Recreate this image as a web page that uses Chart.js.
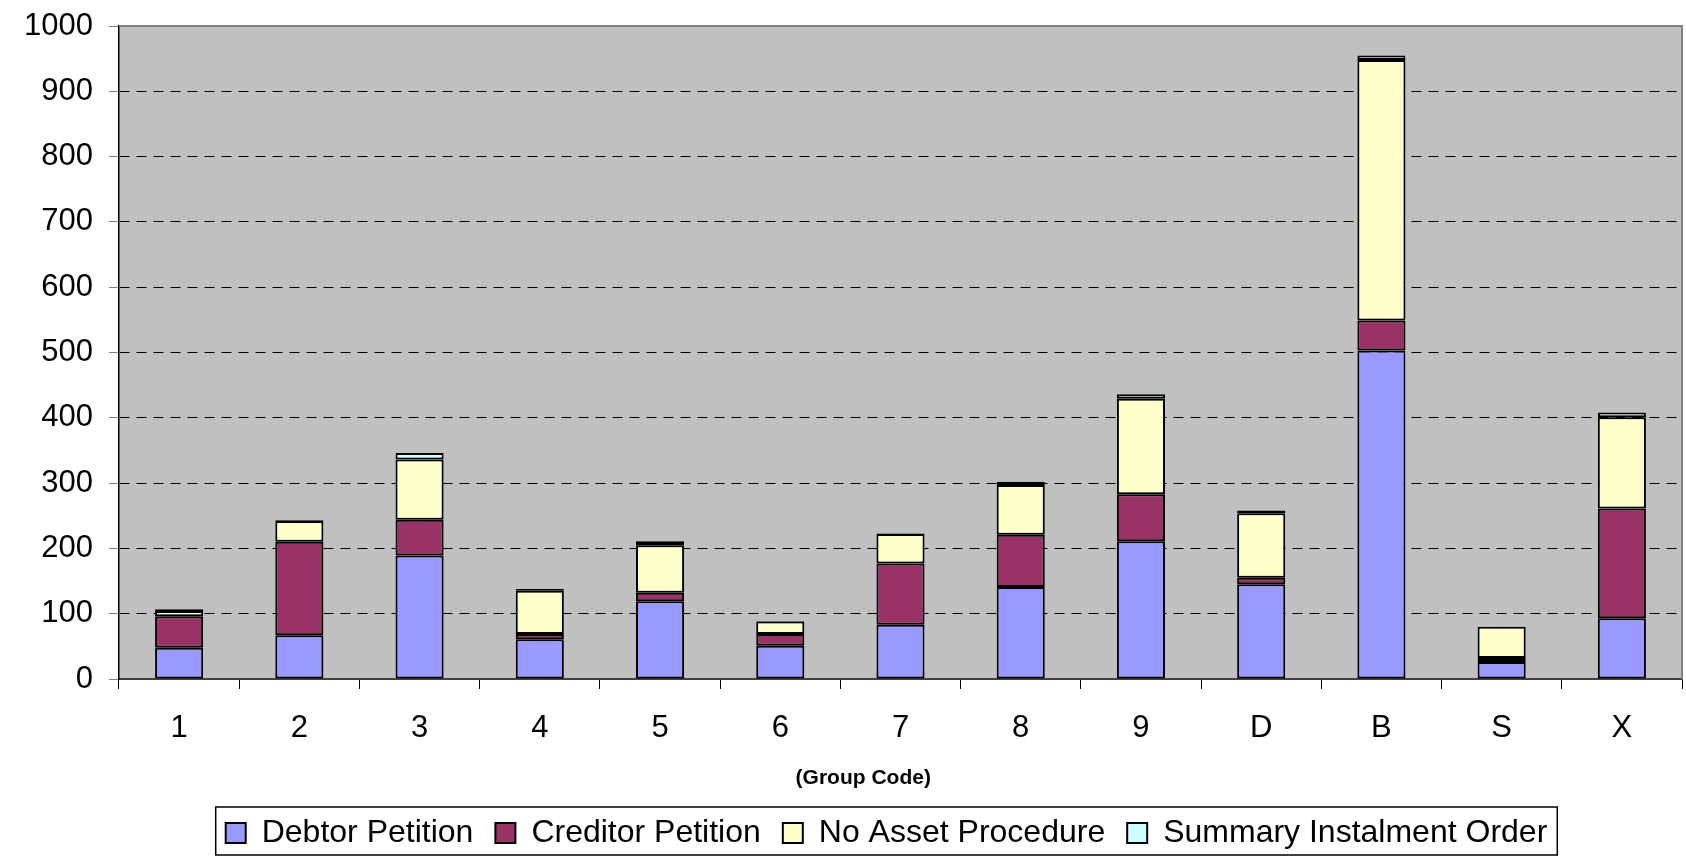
<!DOCTYPE html>
<html lang="en">
<head>
    <meta charset="UTF-8">
    <title>Bankruptcies by Group Code</title>
    <script src="https://cdn.jsdelivr.net/npm/chart.js"></script>
    <style>
        body { margin: 0; background: #fff; }
        .chart-container { width: 1686px; height: 859px; position: relative; }
    </style>
</head>
<body>
    <div class="chart-container">
        <canvas id="groupChart"></canvas>
    </div>

    <script>
        // values
        const groupCodes = ['1', '2', '3', '4', '5', '6', '7', '8', '9', 'D', 'B', 'S', 'X'];
        const debtorPetition   = [48, 67, 189, 61, 119, 51, 83, 141, 211, 145, 503, 26, 93];
        const creditorPetition = [48, 143, 55, 8, 13, 18, 94, 80, 72, 10, 46, 6, 168];
        const noAssetProcedure = [8, 32, 92, 66, 73, 19, 45, 76, 146, 99, 399, 48, 140];
        const summaryInstalment = [3, 1, 10, 3, 6, 1, 1, 5, 7, 4, 7, 0, 7];
        const yTicks = [0, 100, 200, 300, 400, 500, 600, 700, 800, 900, 1000];

        const FONT = '"Liberation Sans", Arial, sans-serif';

        // grey plot background, solid frame on top/right, axis title and legend box
        const plotFrame = {
            id: 'plotFrame',
            afterLayout(chart) {
                // original legend sits a bit left of the plot centre
                chart.legend.left -= 14;
                chart.legend.right -= 14;
            },
            beforeDraw(chart) {
                const { ctx, chartArea: a } = chart;
                ctx.save();
                ctx.fillStyle = '#c0c0c0';
                ctx.fillRect(a.left, a.top, a.right - a.left, a.bottom - a.top);
                ctx.restore();
            },
            beforeDatasetsDraw(chart) {
                const { ctx, chartArea: a } = chart;
                ctx.save();
                ctx.strokeStyle = '#808080';
                ctx.lineWidth = 2;
                ctx.beginPath();
                ctx.moveTo(a.left, a.top);
                ctx.lineTo(a.right, a.top);
                ctx.lineTo(a.right, a.bottom);
                ctx.stroke();
                ctx.restore();
            },
            afterDraw(chart) {
                const { ctx } = chart;
                ctx.save();
                ctx.font = 'bold 21px ' + FONT;
                ctx.fillStyle = '#000';
                ctx.textAlign = 'center';
                ctx.textBaseline = 'middle';
                ctx.fillText('(Group Code)', chart.width * 0.512, chart.scales.x.top + 99);
                ctx.restore();

                const boxes = chart.legend.legendHitBoxes;
                if (boxes && boxes.length) {
                    const first = boxes[0];
                    const last = boxes[boxes.length - 1];
                    ctx.save();
                    ctx.strokeStyle = '#000';
                    ctx.lineWidth = 1.5;
                    ctx.strokeRect(first.left - 10, first.top - 10,
                        last.left + last.width - first.left + 20, first.height + 16);
                    ctx.restore();
                }
            }
        };

        const ctx = document.getElementById('groupChart').getContext('2d');

        const makeSet = (label, data, color) => ({
            label: label,
            data: data,
            backgroundColor: color,
            borderColor: '#000',
            borderWidth: 2,
            borderSkipped: false,
            categoryPercentage: 1.0,
            barPercentage: 0.4
        });

        new Chart(ctx, {
            type: 'bar',
            data: {
                labels: groupCodes,
                datasets: [
                    makeSet('Debtor Petition', debtorPetition, '#9999ff'),
                    makeSet('Creditor Petition', creditorPetition, '#993366'),
                    makeSet('No Asset Procedure', noAssetProcedure, '#ffffcc'),
                    makeSet('Summary Instalment Order', summaryInstalment, '#ccffff')
                ]
            },
            options: {
                responsive: true,
                maintainAspectRatio: false,
                animation: false,
                layout: { padding: { left: 0, right: 4, top: 26, bottom: 0 } },
                plugins: {
                    tooltip: { enabled: false },
                    legend: {
                        position: 'bottom',
                        fullSize: false,
                        labels: {
                            font: { family: FONT, size: 32 },
                            color: '#000',
                            boxWidth: 20,
                            boxHeight: 20,
                            padding: 22
                        }
                    }
                },
                scales: {
                    x: {
                        stacked: true,
                        afterFit(scale) { scale.height = 116; },
                        grid: {
                            drawOnChartArea: false,
                            tickLength: 10,
                            tickColor: '#000',
                            offset: true
                        },
                        border: { color: '#404040', width: 2 },
                        ticks: {
                            font: { family: FONT, size: 31 },
                            color: '#000',
                            padding: 21,
                            maxRotation: 0
                        }
                    },
                    y: {
                        stacked: true,
                        min: yTicks[0],
                        max: yTicks[yTicks.length - 1],
                        afterFit(scale) {
                            scale.width = 119;
                            scale.paddingTop = 0;
                            scale.paddingBottom = 0;
                        },
                        afterBuildTicks(scale) { scale.ticks = yTicks.map(v => ({ value: v })); },
                        grid: {
                            color: c => (c.tick && (c.tick.value === 0 || c.tick.value === 1000)) ? 'rgba(0,0,0,0)' : '#000',
                            lineWidth: 1,
                            tickLength: 10,
                            tickColor: '#808080'
                        },
                        border: { color: '#000', width: 1.5, dash: [10, 7] },
                        ticks: {
                            font: { family: FONT, size: 31 },
                            color: '#000',
                            padding: 16,
                            callback: v => String(v)
                        }
                    }
                }
            },
            plugins: [plotFrame]
        });
    </script>
</body>
</html>
